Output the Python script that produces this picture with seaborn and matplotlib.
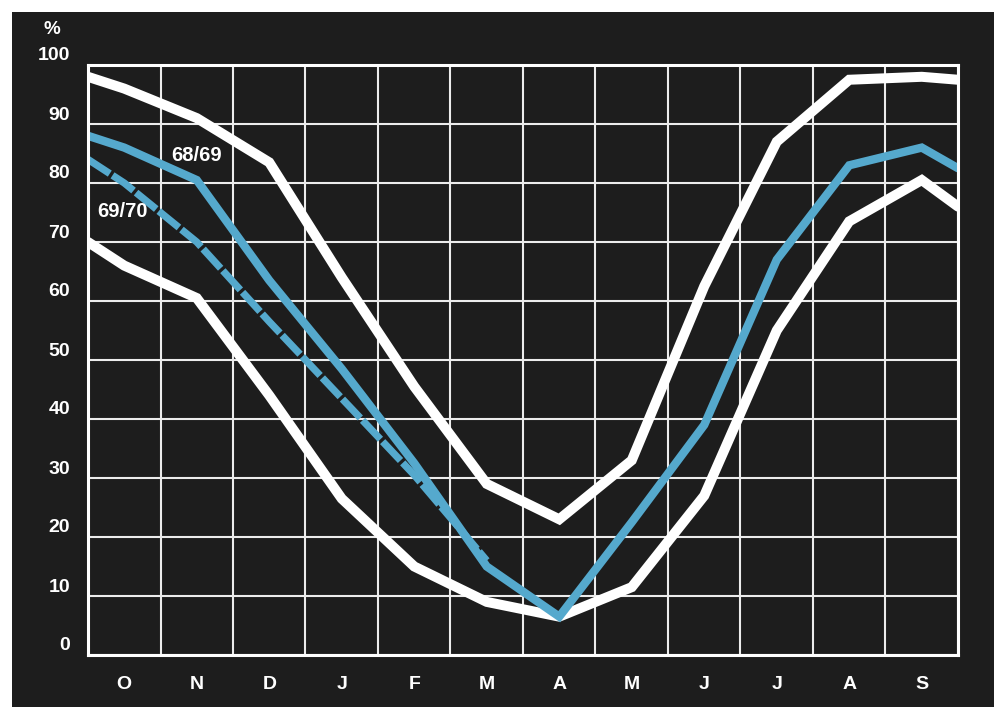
import numpy as np
import pandas as pd
import matplotlib
matplotlib.use('Agg')
import matplotlib.pyplot as plt
import matplotlib.transforms as mtransforms
from matplotlib.patches import Rectangle
import seaborn as sns

# month labels, October -> September
months = ['O', 'N', 'D', 'J', 'F', 'M', 'A', 'M', 'J', 'J', 'A', 'S']

# mid-month values (%), plus value at start of Oct / end of Sep
upper_vals = [96, 91, 83.5, 64, 45.5, 29, 23, 33, 62.5, 87, 97.5, 98]
upper_edges = [98, 97.5]
lower_vals = [66, 60.5, 44, 26.5, 15, 9, 6.5, 11.5, 27, 55, 73.5, 80.5]
lower_edges = [70, 76]
s6869_vals = [86, 80.5, 63.5, 48.5, 32.5, 15, 6.5, 22.5, 39, 67, 83, 86]
s6869_edges = [88, 82.5]
s6970_vals = [80, 70, 56.5, 43.5, 30.5, 16]
s6970_start = 84

yticks = list(range(0, 101, 10))

BG = '#1d1d1d'
BLUE = '#55a9cd'
GRID = '#ececec'


def series_frame(name, vals, start, end=None):
    x = [0] + [i + 0.5 for i in range(len(vals))]
    y = [start] + list(vals)
    if end is not None:
        x.append(len(months))
        y.append(end)
    return pd.DataFrame({'x': x, 'pct': y, 'series': name})


df = pd.concat([
    series_frame('upper', upper_vals, *upper_edges),
    series_frame('lower', lower_vals, *lower_edges),
    series_frame('69/70', s6970_vals, s6970_start),
    series_frame('68/69', s6869_vals, *s6869_edges),
], ignore_index=True)

sns.set_style('dark')
plt.rcParams['font.family'] = ['Liberation Sans', 'DejaVu Sans']

fig = plt.figure(figsize=(9.95, 7.07), dpi=100, facecolor='white')
# dark board with a thin white margin at top and left
fig.patches.append(Rectangle((12 / 995, 0), 1 - 12 / 995, 1 - 12 / 707,
                             transform=fig.transFigure, facecolor=BG,
                             edgecolor='none', zorder=-10))
ax = fig.add_axes([88 / 995, 1 - 655 / 707, 870 / 995, 590 / 707])
ax.set_facecolor(BG)

styles = {
    'upper': dict(color='white', linewidth=7.2),
    'lower': dict(color='white', linewidth=7.2),
    '69/70': dict(color=BLUE, linewidth=5.2, linestyle=(0, (3.6, 0.45))),
    '68/69': dict(color=BLUE, linewidth=6.0),
}
for name, kw in styles.items():
    sns.lineplot(data=df[df['series'] == name], x='x', y='pct', ax=ax,
                 estimator=None, sort=True, solid_joinstyle='miter',
                 dash_joinstyle='miter', legend=False, **kw)

ax.set_xlim(0, len(months))
ax.set_ylim(0, 100)

ax.set_xticks([i + 0.5 for i in range(len(months))])
ax.set_xticklabels(months)
ax.set_xticks(np.arange(len(months) + 1), minor=True)
ax.set_yticks(yticks)
ax.set_yticklabels([str(v) for v in yticks])

ax.set_axisbelow(True)
ax.xaxis.grid(False, which='major')
ax.xaxis.grid(True, which='minor', color=GRID, linewidth=1.5)
ax.yaxis.grid(True, which='major', color=GRID, linewidth=1.5)

ax.tick_params(which='both', length=0)
ax.tick_params(axis='x', pad=15, labelsize=14, labelcolor='white')
ax.tick_params(axis='y', pad=13, labelsize=14, labelcolor='white')
for lab in ax.get_xticklabels() + ax.get_yticklabels():
    lab.set_fontweight('bold')

# y labels sit a little above their grid lines
shift = mtransforms.ScaledTranslation(0, 11 / 100, fig.dpi_scale_trans)
for lab in ax.get_yticklabels():
    lab.set_transform(lab.get_transform() + shift)

for side in ['left', 'right', 'top', 'bottom']:
    ax.spines[side].set_visible(True)
    ax.spines[side].set_color('white')
    ax.spines[side].set_linewidth(2.2)

ax.set_xlabel('')
ax.set_ylabel('')

ax.text(1.5, 84.7, '68/69', ha='center', va='center', color='white',
        fontsize=14.5, fontweight='bold')
ax.text(0.48, 75.1, '69/70', ha='center', va='center', color='white',
        fontsize=14.5, fontweight='bold')

fig.text(52 / 995, 1 - 29 / 707, '%', ha='center', va='center',
         color='white', fontsize=13.5, fontweight='bold')

fig.savefig('out.png', dpi=100, facecolor=fig.get_facecolor())
